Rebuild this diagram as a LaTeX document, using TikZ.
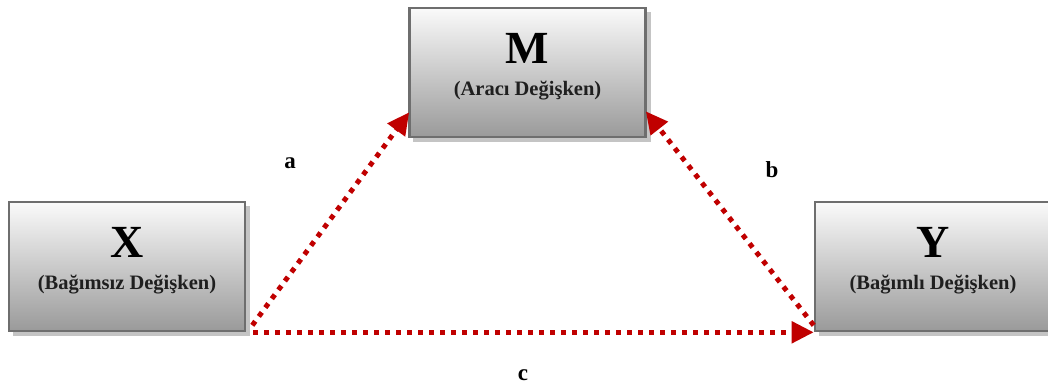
\documentclass[tikz,border=0pt]{standalone}
\usepackage{fontspec}
\setmainfont{Liberation Serif}
\usetikzlibrary{arrows.meta,calc}
\definecolor{arrred}{HTML}{C00000}
\definecolor{boxborder}{HTML}{6E6E6E}
\definecolor{boxtop}{HTML}{FAFAFA}
\definecolor{boxbot}{HTML}{9A9A9A}
\definecolor{shadowgray}{HTML}{C4C4C4}
\tikzset{
  varbox/.style={rectangle, draw=boxborder, line width=2.6pt, top color=boxtop, bottom color=boxbot,
    minimum width=236pt, minimum height=129pt, inner sep=0pt},
  bigletter/.style={anchor=base, font=\fontsize{46}{50}\selectfont\bfseries, inner sep=0pt},
  subtitle/.style={anchor=base, font=\fontsize{20.5}{24}\selectfont\bfseries, text=black!88, inner sep=0pt},
  pathlabel/.style={anchor=base, font=\fontsize{23}{26}\selectfont\bfseries, inner sep=0pt},
  dotarrow/.style={draw=arrred, line width=5pt, dash pattern=on 5pt off 6pt,
    -{Triangle[length=22pt,width=21pt]}},
}
\begin{document}
\begin{tikzpicture}[x=1pt,y=-1pt]
\useasboundingbox (0,0) rectangle (1048,385);
% shadows
\fill[shadowgray] (413,12) rectangle (651,142);
\fill[shadowgray] (13,206) rectangle (250,336);
\fill[shadowgray] (819,206) rectangle (1056,336);
% boxes
\node[varbox] (M) at (527.5,72.5) {};
\node[varbox] (X) at (127,266.5) {};
\node[varbox] (Y) at (933,266.5) {};
% texts
\node[bigletter] (Mt) at ($(M.north)+(0,57)$) {M};
\node[subtitle] (Ms) at ($(M.north)+(0,89)$) {(Aracı Değişken)};
\node[bigletter] (Xt) at ($(X.north)+(0,57)$) {X};
\node[subtitle] (Xs) at ($(X.north)+(0,89)$) {(Bağımsız Değişken)};
\node[bigletter] (Yt) at ($(Y.north)+(0,57)$) {Y};
\node[subtitle] (Ys) at ($(Y.north)+(0,89)$) {(Bağımlı Değişken)};
% connector end points
\coordinate (a0) at ($(X.south east)+(6,-7)$);
\coordinate (a1) at ($(M.south west)+(1,-26)$);
\coordinate (b0) at ($(Y.south west)+(0,-7)$);
\coordinate (b1) at ($(M.south east)+(-1,-27)$);
\coordinate (c0) at ($(X.south east)+(7,0)$);
\coordinate (c1) at ($(Y.south west)+(0,0)$);
\draw[dotarrow] (a0) -- (a1);
\draw[dotarrow] (b0) -- (b1);
\draw[dotarrow] (c0) -- (c1);
% labels
\node[pathlabel] (la) at (290,168) {a};
\node[pathlabel] (lb) at (772,177) {b};
\node[pathlabel] (lc) at (523,380) {c};
\end{tikzpicture}
\end{document}
